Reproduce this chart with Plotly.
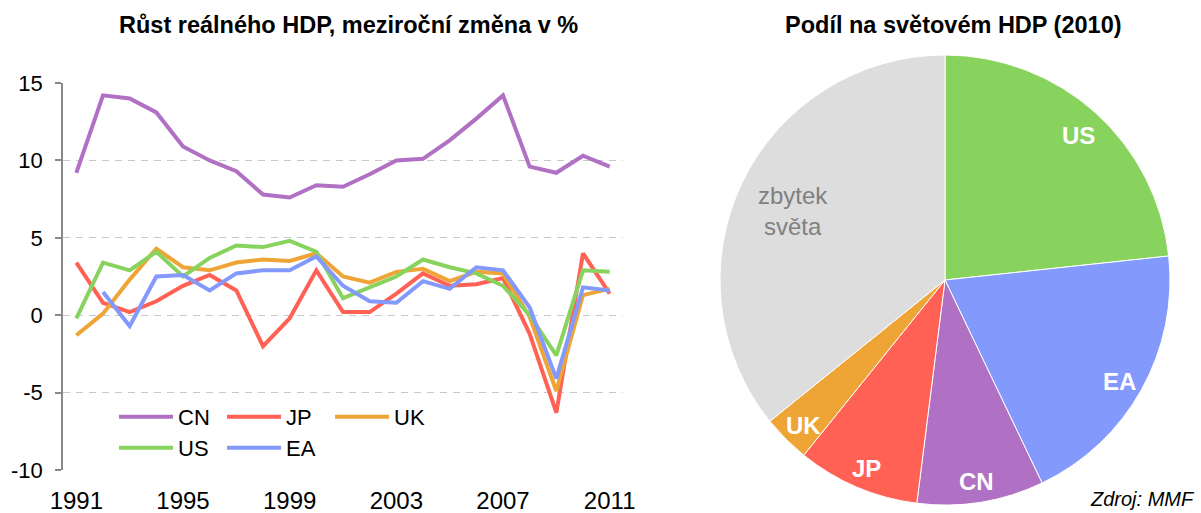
import math
import plotly.graph_objects as go

# ---------------- data ----------------
years = list(range(1991, 2012))
cn = [9.2, 14.2, 14.0, 13.1, 10.9, 10.0, 9.3, 7.8, 7.6, 8.4, 8.3, 9.1, 10.0, 10.1, 11.3, 12.7, 14.2, 9.6, 9.2, 10.3, 9.6]
jp = [3.4, 0.8, 0.2, 0.9, 1.9, 2.6, 1.6, -2.0, -0.2, 2.9, 0.2, 0.2, 1.4, 2.7, 1.9, 2.0, 2.4, -1.2, -6.3, 4.0, 1.4]
uk = [-1.3, 0.1, 2.3, 4.3, 3.1, 2.9, 3.4, 3.6, 3.5, 4.0, 2.5, 2.1, 2.8, 3.0, 2.2, 2.8, 2.7, -0.1, -4.9, 1.3, 1.7]
us = [-0.2, 3.4, 2.9, 4.1, 2.5, 3.7, 4.5, 4.4, 4.8, 4.1, 1.1, 1.8, 2.5, 3.6, 3.1, 2.7, 1.9, 0.0, -2.6, 2.9, 2.8]
ea = [None, 1.5, -0.7, 2.5, 2.6, 1.6, 2.7, 2.9, 2.9, 3.8, 1.9, 0.9, 0.8, 2.2, 1.7, 3.1, 2.9, 0.5, -4.1, 1.8, 1.6]

year_ticks = [1991, 1995, 1999, 2003, 2007, 2011]
year_minor_ticks = [1994.5, 1998.5, 2002.5, 2006.5, 2010.5]
y_ticks = [-10, -5, 0, 5, 10, 15]
y_ticktext = ["-10", "-5", "0", "5", "10", "15"]

pie_labels = ["US", "EA", "CN", "JP", "UK", "zbytek světa"]
pie_values = [23.3, 19.6, 9.1, 8.8, 3.4, 35.8]
pie_text = ["<b>US</b>", "<b>EA</b>", "<b>CN</b>", "<b>JP</b>", "<b>UK</b>", "zbytek<br>světa"]

# ---------------- style ----------------
FONT = "Liberation Sans, Arial, sans-serif"
C_CN = "#B070C4"
C_JP = "#FF6155"
C_UK = "#EEA536"
C_US = "#88D35E"
C_EA = "#8499FC"
C_REST = "#DDDDDD"
AXIS = "#888888"
pie_colors = [C_US, C_EA, C_CN, C_JP, C_UK, C_REST]
pie_text_colors = ["white", "white", "white", "white", "white", "#808080"]

W, H = 1201, 513
def px_x(p):
    return p / W
def px_y(p):
    return 1 - p / H

x_dom = [px_x(63), px_x(623)]
y_dom = [px_y(470), px_y(83)]
y_range = [-10, 15]
zero_pos = y_dom[0] + (0 - y_range[0]) / (y_range[1] - y_range[0]) * (y_dom[1] - y_dom[0])

# pie geometry (pixels)
PIE_CX, PIE_CY, PIE_R = 945, 280, 225

fig = go.Figure()

series = [("CN", cn, C_CN, "legend"), ("JP", jp, C_JP, "legend"), ("UK", uk, C_UK, "legend"),
          ("US", us, C_US, "legend2"), ("EA", ea, C_EA, "legend2")]
for name, vals, col, lg in series:
    fig.add_trace(go.Scatter(x=years, y=vals, name=name, mode="lines",
                             line=dict(color=col, width=4), legend=lg,
                             hoverinfo="skip", connectgaps=False))

fig.add_trace(go.Pie(labels=pie_labels, values=pie_values,
                     textinfo="none",
                     sort=False, direction="clockwise", rotation=0,
                     marker=dict(colors=pie_colors, line=dict(color="white", width=1)),
                     domain=dict(x=[px_x(PIE_CX - PIE_R), px_x(PIE_CX + PIE_R)],
                                 y=[px_y(PIE_CY + PIE_R), px_y(PIE_CY - PIE_R)]),
                     showlegend=False, hoverinfo="skip"))

# pie labels placed along each slice's mid-angle, near the outer edge
annotations = []
total = sum(pie_values)
cum = 0.0
for txt, val, col in zip(pie_text, pie_values, pie_text_colors):
    mid = (cum + val / 2) / total * 2 * math.pi
    cum += val
    frac = 0.75 if "<br>" in txt else 0.89
    lx = PIE_CX + frac * PIE_R * math.sin(mid)
    ly = PIE_CY - frac * PIE_R * math.cos(mid)
    annotations.append(dict(text=txt, xref="paper", yref="paper", x=px_x(lx), y=px_y(ly),
                            xanchor="center", yanchor="middle", showarrow=False, yshift=-4,
                            font=dict(size=24, color=col, family=FONT)))

annotations += [
    dict(text="<b>Růst reálného HDP, meziroční změna v %</b>", xref="paper", yref="paper",
         x=px_x(348), y=px_y(25), xanchor="center", yanchor="middle",
         showarrow=False, font=dict(size=23.5)),
    dict(text="<b>Podíl na světovém HDP (2010)</b>", xref="paper", yref="paper",
         x=px_x(953), y=px_y(25), xanchor="center", yanchor="middle",
         showarrow=False, font=dict(size=23.5)),
    dict(text="<i>Zdroj: MMF</i>", xref="paper", yref="paper",
         x=px_x(1197), y=px_y(499), xanchor="right", yanchor="middle",
         showarrow=False, font=dict(size=20)),
]

fig.update_layout(
    template="none",
    width=W, height=H,
    margin=dict(l=0, r=0, t=0, b=0, pad=0),
    paper_bgcolor="white", plot_bgcolor="white",
    font=dict(family=FONT, size=20, color="black"),
    xaxis=dict(domain=x_dom, range=[1990.5, 2011.5], tickvals=year_ticks,
               ticks="", showline=False, showgrid=False, zeroline=False,
               automargin=False, ticklabelstandoff=14, tickfont=dict(size=24)),
    xaxis2=dict(domain=x_dom, range=[1990.5, 2011.5], overlaying="x",
                anchor="free", position=zero_pos, side="bottom",
                showline=True, linecolor=AXIS, linewidth=1.5,
                ticks="outside", tickvals=year_minor_ticks, ticklen=7,
                tickcolor=AXIS, tickwidth=1.5, showticklabels=False,
                showgrid=False, zeroline=False, automargin=False),
    yaxis=dict(domain=y_dom, range=y_range, tickvals=y_ticks, ticktext=y_ticktext,
               showline=True, linecolor=AXIS, linewidth=1.5,
               ticks="outside", ticklen=6, tickcolor=AXIS, tickwidth=1.5,
               showgrid=True, gridcolor="#C8C8C8", gridwidth=1, griddash="7px,6px",
               zeroline=False, automargin=False, ticklabelstandoff=8,
               tickfont=dict(size=22)),
    legend=dict(orientation="h", x=px_x(114), y=px_y(396), xanchor="left", yanchor="top",
                bgcolor="rgba(0,0,0,0)", borderwidth=0, font=dict(size=22),
                itemwidth=54, entrywidth=39, entrywidthmode="pixels", traceorder="normal"),
    legend2=dict(orientation="h", x=px_x(114), y=px_y(427), xanchor="left", yanchor="top",
                 bgcolor="rgba(0,0,0,0)", borderwidth=0, font=dict(size=22),
                 itemwidth=54, entrywidth=39, entrywidthmode="pixels", traceorder="normal"),
    annotations=annotations,
)

fig.write_html("out.html")
